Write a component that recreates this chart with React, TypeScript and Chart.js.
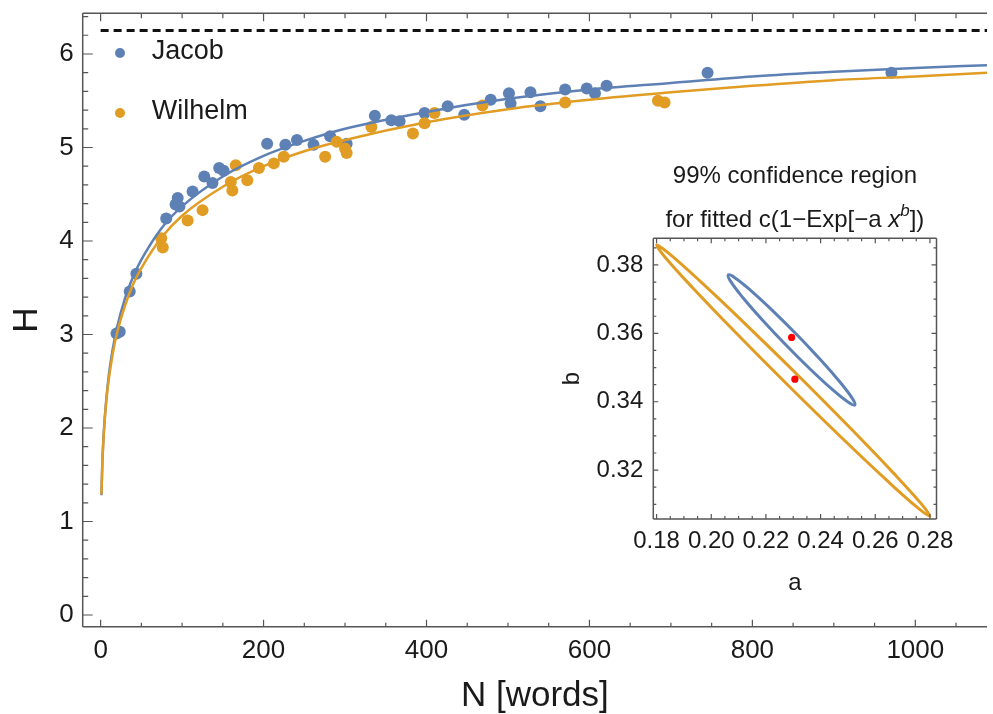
import React, { useEffect, useRef } from 'react';
import { Chart, registerables } from 'chart.js';

Chart.register(...registerables);

const FONT = '"Liberation Sans", Arial, sans-serif';
const TEXT = '#1a1a1a';
const FRAME = '#555555';
const BLUE = '#5E81B5';
const ORANGE = '#E19C24';
const RED = '#FF0000';

// ---------- main chart data ----------
const seriesNames = ['Jacob', 'Wilhelm'];

const jacobN = [19.5, 23.5, 35.7, 43.9, 80.5, 92, 94.6, 96.7, 112.9, 127.2, 137.3, 145.5, 151, 204.4, 226.8, 241, 261.3, 281.7, 302, 336.6, 356.8, 367, 397.6, 426, 446.3, 478.8, 501.2, 503.2, 527.6, 539.8, 570.2, 596.7, 606.8, 621.1, 745, 970.7];
const jacobH = [3.01, 3.03, 3.46, 3.65, 4.24, 4.39, 4.46, 4.37, 4.53, 4.69, 4.62, 4.78, 4.75, 5.04, 5.03, 5.08, 5.03, 5.12, 5.04, 5.34, 5.29, 5.28, 5.37, 5.44, 5.35, 5.51, 5.58, 5.47, 5.59, 5.44, 5.62, 5.63, 5.58, 5.66, 5.8, 5.8];

const wilhelmN = [74.4, 76.3, 106.8, 125.1, 159.8, 161.7, 165.9, 180, 194.3, 212.6, 224.8, 275.6, 289.8, 300, 302, 332.4, 383.3, 397.6, 409.8, 468.7, 570.2, 684.1, 692.2];
const wilhelmH = [4.03, 3.93, 4.22, 4.33, 4.63, 4.54, 4.81, 4.65, 4.78, 4.83, 4.9, 4.9, 5.06, 4.99, 4.94, 5.22, 5.15, 5.26, 5.37, 5.45, 5.48, 5.5, 5.48];

const fitN = [1, 2, 3, 5, 7, 10, 15, 20, 30, 40, 50, 75, 100, 150, 200, 250, 300, 400, 500, 600, 700, 800, 900, 1000, 1088];
const jacobFitH = [1.28, 1.6, 1.81, 2.1, 2.31, 2.56, 2.85, 3.07, 3.39, 3.62, 3.8, 4.14, 4.37, 4.69, 4.91, 5.07, 5.2, 5.38, 5.52, 5.62, 5.69, 5.76, 5.81, 5.85, 5.88];
const wilhelmFitH = [1.29, 1.6, 1.8, 2.08, 2.29, 2.52, 2.8, 3.01, 3.31, 3.54, 3.71, 4.04, 4.27, 4.58, 4.8, 4.96, 5.08, 5.27, 5.41, 5.51, 5.59, 5.66, 5.72, 5.76, 5.8];

const asymptoteN = [0, 1088];
const asymptoteH = 6.25;

const mainXTicks = [0, 200, 400, 600, 800, 1000];
const mainYTicks = [0, 1, 2, 3, 4, 5, 6];

// ---------- inset data ----------
const insetTitle1 = '99% confidence region';
const insetTitle2 = ['for fitted c(1\u2212Exp[\u2212a ', 'x', 'b', '])'];

const jacobRegionA = [0.25255, 0.25154, 0.24715, 0.24006, 0.23134, 0.22233, 0.21439, 0.20873, 0.20621, 0.20722, 0.21161, 0.2187, 0.22742, 0.23643, 0.24437, 0.25004];
const jacobRegionB = [0.33903, 0.34106, 0.34568, 0.35219, 0.35958, 0.36674, 0.37258, 0.37621, 0.37707, 0.37504, 0.37042, 0.36392, 0.35652, 0.34936, 0.34352, 0.33989];
const wilhelmRegionA = [0.27996, 0.27685, 0.2666, 0.25077, 0.23178, 0.21252, 0.19591, 0.18449, 0.18, 0.18311, 0.19336, 0.20919, 0.22818, 0.24744, 0.26405, 0.27547];
const wilhelmRegionB = [0.30655, 0.31013, 0.31919, 0.33237, 0.34766, 0.36272, 0.37527, 0.38339, 0.38585, 0.38228, 0.37321, 0.36003, 0.34475, 0.32968, 0.31713, 0.30901];

const bestFitA = [0.2294, 0.2306];
const bestFitB = [0.3588, 0.3466];

const insetXTicks = [0.18, 0.2, 0.22, 0.24, 0.26, 0.28];
const insetYTicks = [0.32, 0.34, 0.36, 0.38];

// ---------- helpers ----------
const zip = (xs: number[], ys: number[]) => xs.map((x, i) => ({ x, y: ys[i] }));
const closedLoop = (as: number[], bs: number[]) => {
  const n = as.length;
  const pts: { x: number; y: number }[] = [];
  for (let k = 0; k < n + 3; k++) {
    const i = (k + 3) % n;
    pts.push({ x: as[i], y: bs[i] });
  }
  return pts;
};
const steps = (from: number, to: number, step: number) => {
  const out: number[] = [];
  const n = Math.round((to - from) / step);
  for (let i = 0; i <= n; i++) out.push(+(from + i * step).toFixed(6));
  return out;
};

type TickSpec = { major: number[]; minor: number[]; majorLen: number; minorLen: number };
type Sides = { left?: TickSpec; right?: TickSpec; top?: TickSpec; bottom?: TickSpec };

const framePlugin = (id: string, sides: Sides) => ({
  id,
  afterDraw(chart: any) {
    const { ctx, chartArea: ca } = chart;
    const xs = chart.scales.x;
    const ys = chart.scales.y;
    ctx.save();
    ctx.strokeStyle = FRAME;
    ctx.lineWidth = 1.5;
    ctx.beginPath();
    if (sides.left) { ctx.moveTo(ca.left, ca.top); ctx.lineTo(ca.left, ca.bottom); }
    if (sides.right) { ctx.moveTo(ca.right, ca.top); ctx.lineTo(ca.right, ca.bottom); }
    if (sides.top) { ctx.moveTo(ca.left, ca.top); ctx.lineTo(ca.right, ca.top); }
    if (sides.bottom) { ctx.moveTo(ca.left, ca.bottom); ctx.lineTo(ca.right, ca.bottom); }
    ctx.stroke();
    ctx.lineWidth = 1.2;
    ctx.beginPath();
    const hx = (spec: TickSpec, y0: number, dir: number) => {
      const groups: [number[], number][] = [[spec.major, spec.majorLen], [spec.minor, spec.minorLen]];
      for (const [vals, len] of groups) {
        for (const v of vals) {
          const px = xs.getPixelForValue(v);
          if (px < ca.left - 0.5 || px > ca.right + 0.5) continue;
          ctx.moveTo(px, y0);
          ctx.lineTo(px, y0 + dir * len);
        }
      }
    };
    const vy = (spec: TickSpec, x0: number, dir: number) => {
      const groups: [number[], number][] = [[spec.major, spec.majorLen], [spec.minor, spec.minorLen]];
      for (const [vals, len] of groups) {
        for (const v of vals) {
          const py = ys.getPixelForValue(v);
          if (py < ca.top - 0.5 || py > ca.bottom + 0.5) continue;
          ctx.moveTo(x0, py);
          ctx.lineTo(x0 + dir * len, py);
        }
      }
    };
    if (sides.bottom) hx(sides.bottom, ca.bottom, -1);
    if (sides.top) hx(sides.top, ca.top, 1);
    if (sides.left) vy(sides.left, ca.left, 1);
    if (sides.right) vy(sides.right, ca.right, -1);
    ctx.stroke();
    ctx.restore();
  },
});

const legendPlugin = {
  id: 'innerLegend',
  afterDraw(chart: any) {
    const { ctx, chartArea: ca } = chart;
    const entries = [
      { name: seriesNames[0], color: BLUE, dy: 39.7 },
      { name: seriesNames[1], color: ORANGE, dy: 99.7 },
    ];
    ctx.save();
    ctx.font = `27px ${FONT}`;
    ctx.textBaseline = 'middle';
    ctx.textAlign = 'left';
    for (const e of entries) {
      ctx.fillStyle = e.color;
      ctx.beginPath();
      ctx.arc(ca.left + 37.3, ca.top + e.dy, 5, 0, Math.PI * 2);
      ctx.fill();
      ctx.fillStyle = TEXT;
      ctx.fillText(e.name, ca.left + 69, ca.top + e.dy - 1);
    }
    ctx.restore();
  },
};

const insetTitlePlugin = {
  id: 'insetTitle',
  afterDraw(chart: any) {
    const { ctx, chartArea: ca } = chart;
    const cx = (ca.left + ca.right) / 2;
    ctx.save();
    ctx.fillStyle = TEXT;
    ctx.textBaseline = 'middle';
    ctx.textAlign = 'center';
    ctx.font = `24px ${FONT}`;
    ctx.fillText(insetTitle1, cx, ca.top - 62.3);
    const parts = [
      { t: insetTitle2[0], f: `24px ${FONT}`, dy: 0 },
      { t: insetTitle2[1], f: `italic 24px ${FONT}`, dy: 0 },
      { t: insetTitle2[2], f: `italic 17px ${FONT}`, dy: -9 },
      { t: insetTitle2[3], f: `24px ${FONT}`, dy: 0 },
    ];
    let total = 0;
    const widths = parts.map((p) => { ctx.font = p.f; const w = ctx.measureText(p.t).width; total += w; return w; });
    let x = cx - total / 2;
    ctx.textAlign = 'left';
    const y = ca.top - 18.3;
    parts.forEach((p, i) => {
      ctx.font = p.f;
      ctx.fillText(p.t, x, y + p.dy);
      x += widths[i];
    });
    ctx.restore();
  },
};

export default function App() {
  const mainRef = useRef<HTMLCanvasElement>(null);
  const insetRef = useRef<HTMLCanvasElement>(null);

  useEffect(() => {
    Chart.defaults.font.family = FONT;
    const tickFont = { family: FONT, size: 26 };

    const main = new Chart(mainRef.current as HTMLCanvasElement, {
      type: 'scatter',
      data: {
        datasets: [
          { label: seriesNames[0], data: zip(jacobN, jacobH), backgroundColor: BLUE, borderColor: BLUE, pointRadius: 6, borderWidth: 0, order: 5 },
          { label: seriesNames[1], data: zip(wilhelmN, wilhelmH), backgroundColor: ORANGE, borderColor: ORANGE, pointRadius: 6, borderWidth: 0, order: 4 },
          { label: 'Jacob fit', data: zip(fitN, jacobFitH), showLine: true, pointRadius: 0, borderColor: BLUE, borderWidth: 2.5, cubicInterpolationMode: 'monotone', order: 3 } as any,
          { label: 'Wilhelm fit', data: zip(fitN, wilhelmFitH), showLine: true, pointRadius: 0, borderColor: ORANGE, borderWidth: 2.5, cubicInterpolationMode: 'monotone', order: 2 } as any,
          { label: 'c', data: asymptoteN.map((x) => ({ x, y: asymptoteH })), showLine: true, pointRadius: 0, borderColor: '#111', borderWidth: 3, borderDash: [8, 5], order: 1 } as any,
        ],
      },
      options: {
        animation: false,
        responsive: false,
        devicePixelRatio: 1,
        layout: { padding: { left: 0, right: 0, top: 13.3, bottom: 0 } },
        plugins: { legend: { display: false }, tooltip: { enabled: false } },
        scales: {
          x: {
            type: 'linear', min: -22, max: 1088,
            grid: { display: false, drawTicks: false },
            border: { display: false },
            ticks: { color: TEXT, font: tickFont, padding: 8.7, maxRotation: 0, autoSkip: false, callback: (v: any) => String(v) },
            title: { display: true, text: 'N [words]', color: TEXT, font: { family: FONT, size: 35, lineHeight: 1 }, padding: { top: 0, bottom: 0 } },
            afterBuildTicks: (s: any) => { s.ticks = mainXTicks.map((value) => ({ value })); },
            afterFit: (s: any) => { s.height = 87.3; s.paddingLeft = 0; s.paddingRight = 0; },
          },
          y: {
            type: 'linear', min: -0.125, max: 6.435,
            grid: { display: false, drawTicks: false },
            border: { display: false },
            ticks: { color: TEXT, font: tickFont, padding: 9, autoSkip: false, callback: (v: any) => String(v) },
            title: { display: true, text: 'H', color: TEXT, font: { family: FONT, size: 35, lineHeight: 1 }, padding: { top: 9.5, bottom: 0 } },
            afterBuildTicks: (s: any) => { s.ticks = mainYTicks.map((value) => ({ value })); },
            afterFit: (s: any) => { s.width = 82.7; s.paddingTop = 0; s.paddingBottom = 0; },
          },
        },
      } as any,
      plugins: [
        framePlugin('mainFrame', {
          left: { major: mainYTicks, minor: steps(0, 6.4, 0.2), majorLen: 10, minorLen: 5.5 },
          bottom: { major: mainXTicks, minor: steps(0, 1050, 50), majorLen: 7, minorLen: 4 },
          top: { major: mainXTicks, minor: steps(0, 1050, 50), majorLen: 8, minorLen: 5 },
        }),
        legendPlugin,
      ],
    });

    const insetTickFont = { family: FONT, size: 24 };
    const inset = new Chart(insetRef.current as HTMLCanvasElement, {
      type: 'scatter',
      data: {
        datasets: [
          { label: 'Wilhelm region', data: closedLoop(wilhelmRegionA, wilhelmRegionB), showLine: true, pointRadius: 0, borderColor: ORANGE, borderWidth: 3, tension: 0.4, order: 3 } as any,
          { label: 'Jacob region', data: closedLoop(jacobRegionA, jacobRegionB), showLine: true, pointRadius: 0, borderColor: BLUE, borderWidth: 3, tension: 0.4, order: 2 } as any,
          { label: 'best fit', data: zip(bestFitA, bestFitB), pointRadius: 3.6, backgroundColor: RED, borderWidth: 0, order: 1 },
        ],
      },
      options: {
        animation: false,
        responsive: false,
        devicePixelRatio: 1,
        layout: { padding: { left: 0, right: 56.5, top: 88.3, bottom: 0 } },
        plugins: { legend: { display: false }, tooltip: { enabled: false } },
        scales: {
          x: {
            type: 'linear', min: 0.1788, max: 0.2824,
            grid: { display: false, drawTicks: false },
            border: { display: false },
            ticks: { color: TEXT, font: insetTickFont, padding: 8.3, maxRotation: 0, autoSkip: false, callback: (v: any) => Number(v).toFixed(2) },
            title: { display: true, text: 'a', color: TEXT, font: { family: FONT, size: 24 }, padding: { top: 0, bottom: 2.6 } },
            afterBuildTicks: (s: any) => { s.ticks = insetXTicks.map((value) => ({ value })); },
            afterFit: (s: any) => { s.height = 81; s.paddingLeft = 0; s.paddingRight = 0; },
          },
          y: {
            type: 'linear', min: 0.3057, max: 0.3878,
            grid: { display: false, drawTicks: false },
            border: { display: false },
            ticks: { color: TEXT, font: insetTickFont, padding: 10, autoSkip: false, callback: (v: any) => Number(v).toFixed(2) },
            title: { display: true, text: 'b', color: TEXT, font: { family: FONT, size: 24, lineHeight: 1 }, padding: { top: 0, bottom: 0 } },
            afterBuildTicks: (s: any) => { s.ticks = insetYTicks.map((value) => ({ value })); },
            afterFit: (s: any) => { s.width = 93.3; s.paddingTop = 0; s.paddingBottom = 0; },
          },
        },
      } as any,
      plugins: [
        framePlugin('insetFrame', {
          left: { major: insetYTicks, minor: steps(0.31, 0.385, 0.005), majorLen: 5, minorLen: 3 },
          right: { major: insetYTicks, minor: steps(0.31, 0.385, 0.005), majorLen: 5, minorLen: 3 },
          bottom: { major: insetXTicks, minor: steps(0.18, 0.28, 0.005), majorLen: 5, minorLen: 3 },
          top: { major: insetXTicks, minor: steps(0.18, 0.28, 0.005), majorLen: 5, minorLen: 3 },
        }),
        insetTitlePlugin,
      ],
    });

    return () => {
      main.destroy();
      inset.destroy();
    };
  }, []);

  return (
    <div style={{ position: 'absolute', left: 0, top: 0, width: 993, height: 714, background: '#ffffff' }}>
      <canvas ref={mainRef} width={993} height={714} style={{ position: 'absolute', left: 0, top: 0, width: 993, height: 714 }} />
      <canvas ref={insetRef} width={433} height={450} style={{ position: 'absolute', left: 560, top: 150, width: 433, height: 450 }} />
    </div>
  );
}
